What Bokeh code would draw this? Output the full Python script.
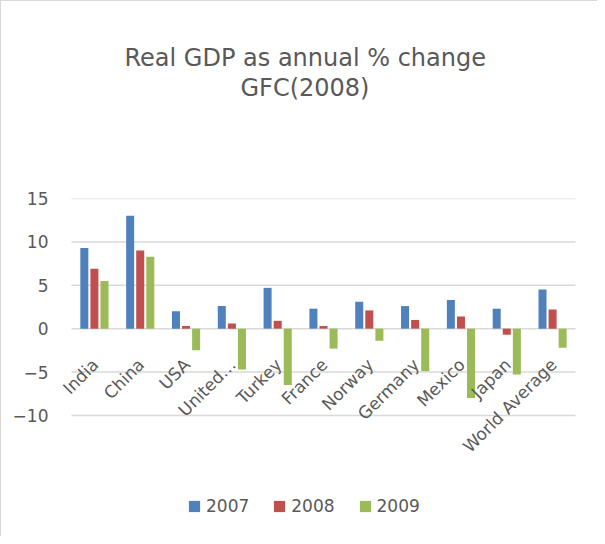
import math
from bokeh.plotting import figure
from bokeh.models import (FactorRange, Range1d, FixedTicker, Title, Legend, LegendItem,
                          ColumnDataSource, LabelSet)
from bokeh.transform import dodge
from bokeh.core.properties import value
from bokeh.embed import file_html
from bokeh.resources import INLINE

categories = ["India", "China", "USA", "United…", "Turkey", "France", "Norway",
              "Germany", "Mexico", "Japan", "World Average"]
series_names = ["2007", "2008", "2009"]
gdp_2007 = [9.3, 13.0, 2.0, 2.6, 4.7, 2.3, 3.1, 2.6, 3.3, 2.3, 4.5]
gdp_2008 = [6.9, 9.0, 0.3, 0.6, 0.9, 0.3, 2.1, 1.0, 1.4, -0.7, 2.2]
gdp_2009 = [5.5, 8.3, -2.5, -4.7, -6.5, -2.3, -1.4, -4.9, -8.0, -5.3, -2.2]
y_ticks = [-10, -5, 0, 5, 10, 15]
title_line1 = "Real GDP as annual % change"
title_line2 = "GFC(2008)"

colors = ["#4F81BD", "#C0504D", "#9BBB59"]
FONT = "DejaVu Sans"
GRAY = "#595959"

src = ColumnDataSource(dict(cat=categories, s2007=gdp_2007, s2008=gdp_2008,
                            s2009=gdp_2009, zero=[0] * len(categories)))
grid_src = ColumnDataSource(dict(y=y_ticks, first=[categories[0]] * len(y_ticks),
                                 last=[categories[-1]] * len(y_ticks)))

p = figure(width=597, height=536, output_backend="svg", toolbar_location=None,
           x_range=FactorRange(*categories, range_padding=0.4365,
                               range_padding_units="absolute"),
           y_range=Range1d(-22, 15),
           min_border_left=50, min_border_right=3, min_border_top=197,
           min_border_bottom=18,
           styles={"border-left": "1px solid #d9d9d9", "border-top": "1px solid #d9d9d9"})
p.outline_line_color = None
p.background_fill_color = "white"
p.border_fill_color = "white"

# horizontal gridlines spanning the category area only
p.segment(x0=dodge("first", -0.5, range=p.x_range), x1=dodge("last", 0.5, range=p.x_range),
          y0="y", y1="y", source=grid_src, line_color="#d9d9d9", line_width=1.5)

offsets = [-0.22, 0.0, 0.22]
renderers = []
for name, col, off, c in zip(series_names, ["s2007", "s2008", "s2009"], offsets, colors):
    r = p.vbar(x=dodge("cat", off, range=p.x_range), top=col, bottom=0, width=0.175,
               source=src, fill_color=c, line_color=None)
    renderers.append((name, r))

# category labels along the zero line
labels = LabelSet(x="cat", y="zero", text="cat", source=src, angle=math.pi / 4,
                  text_align="right", text_baseline="middle", x_offset=1, y_offset=-33,
                  text_font=value(FONT), text_font_size=value("17px"),
                  text_color=GRAY)
p.add_layout(labels)

p.xaxis.visible = False
p.xgrid.grid_line_color = None
p.ygrid.grid_line_color = None

yax = p.yaxis[0]
yax.ticker = FixedTicker(ticks=y_ticks)
yax.axis_line_color = None
yax.major_tick_line_color = None
yax.minor_tick_line_color = None
yax.major_tick_out = 0
yax.major_tick_in = 0
yax.major_label_standoff = 3
yax.major_label_text_font = FONT
yax.major_label_text_font_size = "17px"
yax.major_label_text_color = GRAY

legend = Legend(items=[LegendItem(label=n, renderers=[r]) for n, r in renderers],
                orientation="horizontal", location=(136, 3),
                border_line_color=None, background_fill_alpha=0,
                glyph_width=14, glyph_height=14, label_standoff=5, spacing=23,
                padding=0, margin=0, label_text_font=FONT,
                label_text_font_size="17px", label_text_color=GRAY)
p.add_layout(legend)

# spacer between the frame and the title lines
p.add_layout(Title(text=" ", text_font_size="10px", standoff=84), "above")
p.add_layout(Title(text=title_line2, align="left", offset=189, standoff=0,
                   text_font=FONT, text_font_size="24px", text_font_style="normal",
                   text_color=GRAY), "above")
p.add_layout(Title(text=title_line1, align="left", offset=73, standoff=0,
                   text_font=FONT, text_font_size="24px", text_font_style="normal",
                   text_color=GRAY), "above")
p.title.visible = False

open("out.html", "w").write(file_html(p, INLINE))
